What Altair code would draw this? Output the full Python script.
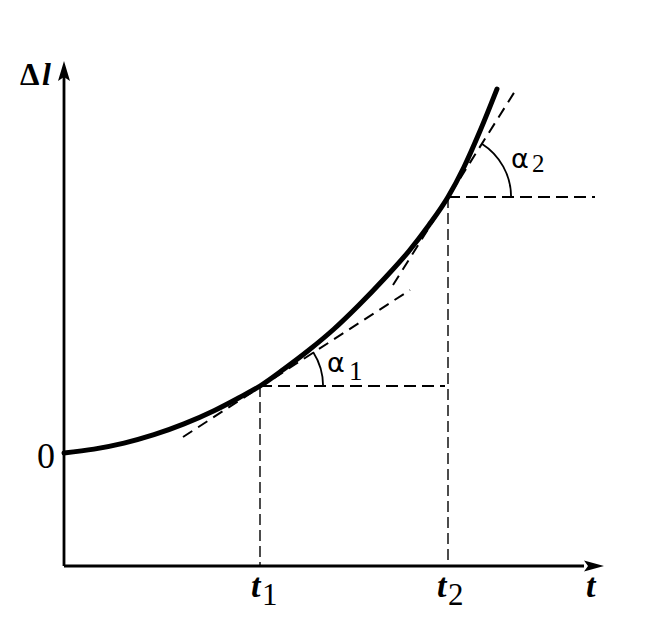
import altair as alt
import pandas as pd

# ---- data (t to the right, Δl upward; Δl = 0 at the curve's start) ----
curve_t = [0, 30, 60, 90, 120, 150, 175, 196, 220, 245, 270, 295, 320, 345, 365, 384, 400, 416, 433]
curve_dl = [0, 3.9, 9.9, 18.3, 29.1, 42.3, 55.3, 67, 84, 103, 124, 148, 174, 202, 228, 256, 286, 322, 364]

t_marks = [196, 384]          # t1, t2
dl_marks = [67, 256]          # Δl(t1), Δl(t2)
t_axis_level = -113           # Δl level of the t axis
y_axis_top = 380              # Δl where the Δl-axis arrowhead begins
x_axis_right = 520            # t where the t-axis arrowhead begins

tan1_t = [119, 346]
tan1_dl = [16, 163]
tan2_t = [329, 453]
tan2_dl = [168, 365]
horiz_end_t = [381, 531]

arrow_t = [0, 530]
arrow_dl = [382, -113]

arc_t = [196, 384]
arc_dl = [67, 256]
arc_theta1 = [1.00, 0.565]
arc_theta2 = [1.5708, 1.5708]

# labels
ital_text = ["l", "t", "t", "t"]
ital_t = [-22, 187, 373, 522]
ital_dl = [368, -144, -144, -144]
ital_size = [32, 34, 34, 34]

delta_text = ["Δ"]
delta_t = [-44]
delta_dl = [368]

serif_text = ["0", "1", "2", "1", "2"]
serif_t = [-27, 198, 384, 285, 468]
serif_dl = [-15, -152, -152, 73, 281]
serif_size = [36, 31, 31, 27, 25]

alpha_text = ["α", "α"]
alpha_t = [263, 447]
alpha_dl = [81, 285]

# ---- scales ----
xs = alt.Scale(domain=[-56, 590], nice=False, zero=False)
ys = alt.Scale(domain=[-159, 445], nice=False, zero=False)


def X(f):
    return alt.X(f, type="quantitative", scale=xs, axis=None)


def Y(f):
    return alt.Y(f, type="quantitative", scale=ys, axis=None)


curve_df = pd.DataFrame({"t": curve_t, "dl": curve_dl})
curve = alt.Chart(curve_df).mark_line(
    color="black", strokeWidth=5, interpolate="monotone", strokeCap="round"
).encode(x=X("t"), y=Y("dl"), order="t:Q")

axes_df = pd.DataFrame({
    "t": [0, 0], "dl": [t_axis_level, t_axis_level],
    "t2": [0, x_axis_right], "dl2": [y_axis_top, t_axis_level],
})
axes = alt.Chart(axes_df).mark_rule(color="black", strokeWidth=2.8).encode(
    x=X("t"), y=Y("dl"), x2="t2", y2="dl2"
)

arrows_df = pd.DataFrame({"t": [arrow_t[0]], "dl": [arrow_dl[0]]})
arrow_up = alt.Chart(arrows_df).mark_point(
    shape="M0,-1L0.6,1L0,0.6L-0.6,1Z", size=400, filled=True, color="black", opacity=1, strokeWidth=0
).encode(x=X("t"), y=Y("dl"))
arrows_df2 = pd.DataFrame({"t": [arrow_t[1]], "dl": [arrow_dl[1]]})
arrow_right = alt.Chart(arrows_df2).mark_point(
    shape="M1,0L-1,-0.55L-0.6,0L-1,0.55Z", size=400, filled=True, color="black", opacity=1, strokeWidth=0
).encode(x=X("t"), y=Y("dl"))

tan_df = pd.DataFrame({
    "t": [tan1_t[0], tan2_t[0]], "dl": [tan1_dl[0], tan2_dl[0]],
    "t2": [tan1_t[1], tan2_t[1]], "dl2": [tan1_dl[1], tan2_dl[1]],
})
tangents = alt.Chart(tan_df).mark_rule(color="black", strokeWidth=2, strokeDash=[11, 7]).encode(
    x=X("t"), y=Y("dl"), x2="t2", y2="dl2"
)

horiz_df = pd.DataFrame({"t": t_marks, "dl": dl_marks, "t2": horiz_end_t})
horiz = alt.Chart(horiz_df).mark_rule(color="black", strokeWidth=2, strokeDash=[12, 6]).encode(
    x=X("t"), y=Y("dl"), x2="t2"
)

vert_df = pd.DataFrame({"t": t_marks, "dl": dl_marks, "dl2": [t_axis_level, t_axis_level]})
vert = alt.Chart(vert_df).mark_rule(color="black", strokeWidth=1.4, strokeDash=[11, 5]).encode(
    x=X("t"), y=Y("dl"), y2="dl2"
)

arc_df = pd.DataFrame({"t": arc_t, "dl": arc_dl, "th1": arc_theta1, "th2": arc_theta2})
arcs = alt.Chart(arc_df).mark_arc(radius=64, radius2=62.2, color="black").encode(
    x=X("t"), y=Y("dl"),
    theta=alt.Theta("th1:Q", scale=None), theta2="th2:Q",
)

ital = alt.Chart(pd.DataFrame({"t": ital_t, "dl": ital_dl, "txt": ital_text, "fs": ital_size})).mark_text(
    align="left", baseline="alphabetic", font="Liberation Serif", fontStyle="italic", fontWeight="bold", color="black"
).encode(x=X("t"), y=Y("dl"), text="txt:N", size=alt.Size("fs:Q", scale=None))

delta = alt.Chart(pd.DataFrame({"t": delta_t, "dl": delta_dl, "txt": delta_text})).mark_text(
    align="left", baseline="alphabetic", font="Liberation Serif", fontWeight="bold", fontSize=31, color="black"
).encode(x=X("t"), y=Y("dl"), text="txt:N")

serif = alt.Chart(pd.DataFrame({"t": serif_t, "dl": serif_dl, "txt": serif_text, "fs": serif_size})).mark_text(
    align="left", baseline="alphabetic", font="Liberation Serif", color="black"
).encode(x=X("t"), y=Y("dl"), text="txt:N", size=alt.Size("fs:Q", scale=None))

alpha = alt.Chart(pd.DataFrame({"t": alpha_t, "dl": alpha_dl, "txt": alpha_text})).mark_text(
    align="left", baseline="alphabetic", font="DejaVu Sans", fontSize=27, color="black"
).encode(x=X("t"), y=Y("dl"), text="txt:N")

chart = alt.layer(
    vert, horiz, tangents, arcs, curve, axes, arrow_up, arrow_right, ital, delta, serif, alpha
).properties(
    width=646, height=604,
    autosize=alt.AutoSizeParams(type="none"),
    padding=0,
    background="white",
).configure_view(strokeWidth=0)

chart.save("out.html", embed_options={"renderer": "svg", "actions": False})
